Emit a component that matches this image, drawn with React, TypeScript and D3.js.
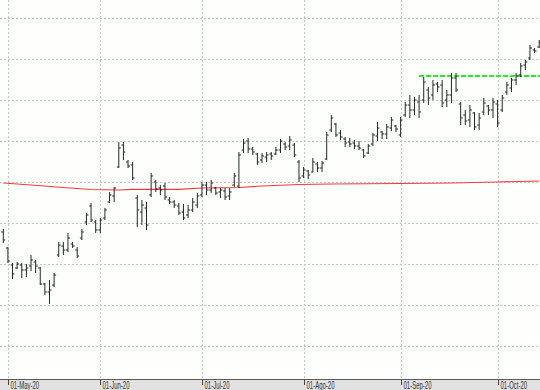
import * as d3 from "d3";

// daily bars (price units, arbitrary scale: no y labels shown)
const opens = [
  16.8, 15.2, 13.5, 13.2, 13.5, 13.0, 13.4, 13.8, 13.2, 11.6, 10.8, 11.5, 14.5, 15.4, 15.0, 15.6, 15.0, 16.2, 17.8, 19.4,
  17.8, 17.0, 18.2, 19.8, 20.4, 23.3, 25.5, 23.8, 23.5, 20.2, 18.8, 19.2, 20.5, 21.8, 21.2, 21.4, 20.0, 19.8, 19.4, 18.8,
  18.5, 19.0, 19.5, 20.5, 21.5, 21.0, 21.2, 20.8, 20.9, 20.4, 21.5, 21.4, 25.0, 25.9, 25.1, 24.6, 24.0, 24.3, 24.6, 24.6,
  25.0, 25.6, 25.4, 25.5, 23.8, 22.4, 22.9, 22.8, 23.6, 23.2, 24.1, 27.0, 27.6, 26.7, 26.1, 25.8, 25.7, 25.4, 25.0, 24.7,
  25.6, 26.4, 26.8, 26.6, 27.2, 27.4, 26.5, 28.5, 29.5, 29.0, 29.8, 30.0, 31.0, 30.5, 31.6, 31.5, 30.0, 30.5, 32.2, 29.6,
  28.5, 28.0, 28.7, 27.5, 28.8, 29.4, 29.0, 29.6, 29.0, 30.8, 31.2, 32.0, 32.5, 33.5, 34.2, 35.0, 35.3,
];
const highs = [
  17.1, 15.3, 13.7, 13.8, 13.7, 13.6, 14.5, 14.0, 13.3, 11.7, 12.0, 12.7, 15.8, 15.8, 16.7, 15.8, 15.3, 17.1, 18.7, 19.7,
  18.0, 18.2, 19.2, 20.8, 21.3, 25.8, 25.8, 24.0, 23.8, 20.5, 20.0, 19.8, 22.7, 22.0, 21.5, 21.7, 20.3, 20.0, 19.7, 19.6,
  19.5, 20.2, 20.7, 21.8, 21.8, 22.0, 21.3, 21.2, 21.2, 21.2, 22.7, 24.8, 26.1, 26.2, 25.3, 24.7, 24.7, 24.8, 24.8, 25.3,
  26.1, 25.8, 26.4, 25.7, 24.0, 23.3, 23.0, 24.2, 23.8, 23.9, 26.8, 28.5, 27.7, 27.0, 26.3, 26.2, 26.0, 25.9, 25.1, 25.6,
  26.7, 27.8, 26.9, 27.6, 28.3, 27.5, 28.3, 29.8, 30.5, 30.3, 30.5, 32.3, 31.3, 32.0, 31.8, 32.0, 31.0, 32.7, 32.7, 29.8,
  29.0, 29.5, 28.8, 28.7, 30.2, 29.5, 30.2, 30.0, 30.5, 31.8, 32.2, 32.7, 33.7, 34.0, 35.5, 35.2, 36.0,
];
const lows = [
  15.7, 13.7, 12.1, 13.1, 12.2, 12.3, 12.9, 12.7, 11.5, 10.5, 9.6, 11.3, 14.3, 14.5, 14.8, 15.2, 14.2, 16.0, 17.5, 17.8,
  16.7, 16.7, 18.0, 19.7, 19.8, 23.2, 24.0, 23.2, 22.0, 17.3, 17.5, 17.0, 20.3, 20.8, 20.5, 20.0, 19.6, 19.2, 18.5, 18.0,
  18.2, 18.8, 19.2, 20.3, 20.5, 20.7, 20.5, 20.2, 20.0, 20.0, 21.3, 21.2, 24.7, 24.7, 24.5, 23.5, 23.7, 23.8, 24.0, 24.5,
  24.7, 25.0, 25.0, 24.3, 21.8, 22.2, 22.1, 22.8, 22.8, 22.8, 24.0, 26.8, 26.3, 26.0, 25.3, 25.3, 25.1, 25.0, 24.2, 24.6,
  25.4, 25.9, 26.1, 26.1, 26.9, 26.8, 26.3, 28.3, 28.2, 28.5, 28.2, 29.7, 29.5, 30.0, 30.8, 29.3, 29.3, 29.7, 30.8, 27.5,
  27.5, 27.3, 27.0, 27.0, 28.5, 28.5, 28.2, 27.3, 28.8, 30.5, 30.8, 31.5, 32.3, 33.0, 34.0, 34.7, 35.2,
];
const closes = [
  16.0, 13.9, 12.6, 13.6, 13.0, 13.2, 14.0, 13.4, 11.6, 10.8, 11.0, 12.5, 15.5, 15.0, 16.2, 15.4, 14.4, 16.8, 18.5, 18.0,
  17.0, 18.0, 19.0, 20.5, 21.2, 25.2, 24.8, 23.4, 22.2, 19.0, 19.5, 17.5, 22.4, 21.1, 21.0, 20.3, 19.8, 19.5, 18.7, 18.2,
  19.0, 19.8, 20.4, 21.5, 21.0, 21.7, 20.7, 21.0, 20.3, 20.8, 22.4, 24.5, 25.7, 25.1, 24.8, 23.8, 24.4, 24.5, 24.4, 25.0,
  25.9, 25.3, 26.0, 24.5, 22.2, 23.0, 22.5, 23.8, 23.2, 23.7, 26.5, 28.2, 26.5, 26.3, 25.7, 25.6, 25.4, 25.2, 24.4, 25.4,
  26.5, 27.2, 26.6, 27.3, 28.0, 27.1, 28.0, 29.5, 29.0, 30.0, 28.8, 31.8, 30.2, 31.5, 31.3, 29.7, 30.5, 32.2, 31.0, 28.2,
  27.9, 29.0, 27.3, 28.2, 29.7, 29.0, 29.8, 27.7, 30.2, 31.5, 32.0, 32.4, 33.4, 33.8, 35.2, 34.9, 35.8,
];

// moving average, read at some bar indices
const maIdx = [0, 6, 13, 19, 25, 28, 38, 43, 51, 56, 64, 71, 86, 97, 107, 116];
const maVal = [21.7, 21.5, 21.25, 21.05, 21.0, 21.07, 21.07, 21.2, 21.25, 21.4, 21.55, 21.6, 21.65, 21.7, 21.8, 21.9];

// resistance level (green dashed), drawn from bar index onward
const resistLevel = 32.4;
const resistFrom = 90;

// horizontal grid levels
const gridLevels = [38.2, 34.1, 30.0, 25.9, 21.8, 17.7, 13.6, 9.5, 5.4];

// month ticks: bar index of first session + label
const tickIdx = [1, 21, 43, 65, 86, 107];
const tickLabels = ["01-May-20", "01-Jun-20", "01-Jul-20", "01-Ago-20", "01-Sep-20", "01-Oct-20"];

const W = 540;
const H = 390;
const plotBottom = 379;

export default function App() {
  const n = closes.length;
  const x = d3.scaleLinear().domain([0, n - 1]).range([3.3, 539.2]);
  const y = d3.scaleLinear().domain([0, 40]).range([400, 0]);

  const maLine = d3
    .line<number>()
    .x((_, i) => x(maIdx[i]))
    .y((d) => y(d));

  const barPath = d3.range(n).map((i) => {
    const cx = x(i);
    return `M${cx},${y(highs[i])}V${y(lows[i])}M${cx - 2},${y(opens[i])}H${cx}M${cx},${y(closes[i])}H${cx + 2}`;
  }).join("");

  return (
    <svg width={W} height={H} style={{ position: "absolute", left: 0, top: 0, display: "block" }}>
      <rect x={0} y={0} width={W} height={plotBottom} fill="#fdfffd" />
      <g stroke="#c6c6c6" strokeDasharray="2,2" strokeWidth={1}>
        {gridLevels.map((g) => (
          <line key={g} x1={0} x2={W} y1={Math.round(y(g)) + 0.5} y2={Math.round(y(g)) + 0.5} />
        ))}
        {tickIdx.map((t) => (
          <line key={t} x1={Math.round(x(t)) + 0.5} x2={Math.round(x(t)) + 0.5} y1={0} y2={plotBottom} />
        ))}
      </g>
      <path d={maLine(maVal) ?? ""} fill="none" stroke="#f03c3c" strokeWidth={1.2} />
      <line
        x1={x(resistFrom)}
        x2={W}
        y1={y(resistLevel)}
        y2={y(resistLevel)}
        stroke="#22ee22"
        strokeWidth={2}
        strokeDasharray="5,2"
      />
      <path d={barPath} fill="none" stroke="#262626" strokeWidth={1} />
      <rect x={0} y={plotBottom} width={W} height={H - plotBottom} fill="#e2e2e2" />
      <line x1={0} x2={W} y1={plotBottom + 0.5} y2={plotBottom + 0.5} stroke="#5a5a5a" />
      {tickIdx.map((t, k) => {
        const tx = Math.round(x(t)) + 0.5;
        return (
          <g key={t}>
            <line x1={tx} x2={tx} y1={plotBottom} y2={plotBottom + 6} stroke="#444" />
            {/* narrow axis font: squeeze a normal sans horizontally */}
            <text
              transform={`translate(${tx + 2},388.5) scale(0.6,1)`}
              fontFamily="Liberation Sans, Arial, sans-serif"
              fontSize={10}
              fill="#333"
            >
              {tickLabels[k]}
            </text>
          </g>
        );
      })}
    </svg>
  );
}
